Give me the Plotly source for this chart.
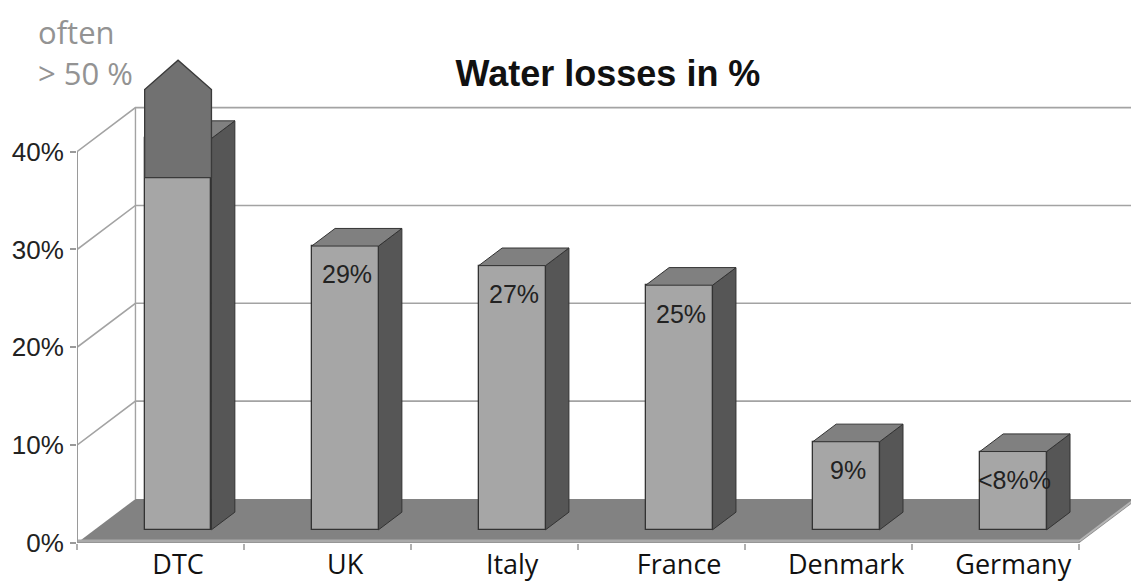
import plotly.graph_objects as go

# ---- data -------------------------------------------------------------
categories = ["DTC", "UK", "Italy", "France", "Denmark", "Germany"]
losses = [40, 29, 27, 25, 9, 8]
value_labels = ["", "29%", "27%", "25%", "9%", "<8%%"]

# DTC: common level plus the "often > 50 %" arrow
dtc_common = 36
dtc_arrow_body = 45
dtc_arrow_tip = 48

ytick_vals = [0, 10, 20, 30, 40]
ytick_text = ["0%", "10%", "20%", "30%", "40%"]

# ---- pseudo-3D geometry (in axis units) -------------------------------
DEPTH_X, DEPTH_Y = 0.35, 4.5       # full depth of the floor / side walls
BAR_NEAR, BAR_FAR = 0.30, 0.70      # depth slice occupied by the bars
BAR_W = 0.4
X_MIN, X_MAX = -0.5, 5.81
Y_MAX = 55.5

shift_x = BAR_NEAR * DEPTH_X
base = BAR_NEAR * DEPTH_Y
thick_x = (BAR_FAR - BAR_NEAR) * DEPTH_X
thick_y = (BAR_FAR - BAR_NEAR) * DEPTH_Y

FRONT = "#a6a6a6"
TOP = "#808080"
SIDE = "#565656"
ARROW = "#717171"
EDGE = "#333333"
GRID = "#a3a3a3"
FLOOR = "#828282"


def path(points):
    return "M " + " L ".join(f"{x},{y}" for x, y in points) + " Z"


shapes = []
n = len(categories)

# floor
shapes.append(dict(type="path", xref="x", yref="y", layer="below",
                   path=path([(X_MIN, 0), (n - 0.5, 0),
                              (n - 0.5 + DEPTH_X, DEPTH_Y),
                              (X_MIN + DEPTH_X, DEPTH_Y)]),
                   fillcolor=FLOOR, line=dict(width=0)))
# floor front and right edges
shapes.append(dict(type="line", xref="x", yref="y", layer="below",
                   x0=X_MIN, y0=0.2, x1=n - 0.5, y1=0.2,
                   line=dict(color="#a9a9a9", width=3)))
shapes.append(dict(type="line", xref="x", yref="y", layer="below",
                   x0=n - 0.5, y0=0.2, x1=n - 0.5 + DEPTH_X, y1=DEPTH_Y + 0.2,
                   line=dict(color="#b5b5b5", width=2)))

# gridlines on the left and back walls
for v in ytick_vals[1:]:
    shapes.append(dict(type="path", xref="x", yref="y", layer="below",
                       path=f"M {X_MIN},{v} L {X_MIN + DEPTH_X},{v + DEPTH_Y} L {X_MAX + 1},{v + DEPTH_Y}",
                       line=dict(color=GRID, width=1.6)))
# back wall left edge
shapes.append(dict(type="line", xref="x", yref="y", layer="below",
                   x0=X_MIN + DEPTH_X, y0=DEPTH_Y, x1=X_MIN + DEPTH_X,
                   y1=ytick_vals[-1] + DEPTH_Y,
                   line=dict(color=GRID, width=1.4)))
# front value axis
shapes.append(dict(type="line", xref="x", yref="y", layer="below",
                   x0=X_MIN, y0=0, x1=X_MIN, y1=ytick_vals[-1],
                   line=dict(color="#9a9a9a", width=2)))

# top and side faces of every bar
for i, v in enumerate(losses):
    x0 = i + shift_x - BAR_W / 2
    x1 = i + shift_x + BAR_W / 2
    top = v + base
    shapes.append(dict(type="path", xref="x", yref="y", layer="above",
                       path=path([(x1, base), (x1, top),
                                  (x1 + thick_x, top + thick_y),
                                  (x1 + thick_x, base + thick_y)]),
                       fillcolor=SIDE, line=dict(color=EDGE, width=1)))
    shapes.append(dict(type="path", xref="x", yref="y", layer="above",
                       path=path([(x0, top), (x1, top),
                                  (x1 + thick_x, top + thick_y),
                                  (x0 + thick_x, top + thick_y)]),
                       fillcolor=TOP, line=dict(color=EDGE, width=1)))

# DTC arrow
ax0 = 0 + shift_x - BAR_W / 2
ax1 = 0 + shift_x + BAR_W / 2
shapes.append(dict(type="path", xref="x", yref="y", layer="above",
                   path=path([(ax0, dtc_common + base), (ax1, dtc_common + base),
                              (ax1, dtc_arrow_body + base),
                              ((ax0 + ax1) / 2, dtc_arrow_tip + base),
                              (ax0, dtc_arrow_body + base)]),
                   fillcolor=ARROW, line=dict(color="#3a3a3a", width=1.3)))

fig = go.Figure()
fig.add_trace(go.Bar(
    x=[i + shift_x for i in range(n)],
    y=losses,
    base=base,
    width=BAR_W,
    marker=dict(color=FRONT, line=dict(color=EDGE, width=1.3)),
    hoverinfo="skip",
    showlegend=False,
))

annotations = []
for i, (v, lab) in enumerate(zip(losses, value_labels)):
    if lab:
        annotations.append(dict(x=i + shift_x + 0.01, y=v + base - 2.9,
                                xref="x", yref="y", text=lab, showarrow=False,
                                font=dict(family="Liberation Sans", size=25,
                                          color="#222222")))

annotations.append(dict(x=-0.039, y=0.941, xref="paper", yref="paper",
                        text="often", showarrow=False, xanchor="left",
                        yanchor="middle",
                        font=dict(family="Open Sans", size=31, color="#939393")))
annotations.append(dict(x=-0.039, y=0.866, xref="paper", yref="paper",
                        text="> 50 %", showarrow=False, xanchor="left",
                        yanchor="middle",
                        font=dict(family="Open Sans", size=31, color="#939393")))

fig.update_layout(
    width=1131, height=585,
    margin=dict(l=77, r=0, t=0, b=42, autoexpand=False),
    paper_bgcolor="white", plot_bgcolor="white",
    bargap=0,
    title=dict(text="<b>Water losses in %</b>", x=608 / 1131, y=1 - 73 / 585,
               xref="container", yref="container",
               xanchor="center", yanchor="middle",
               font=dict(family="Liberation Sans", size=36, color="#111111")),
    shapes=shapes,
    annotations=annotations,
    xaxis=dict(range=[X_MIN, X_MAX], showgrid=False, zeroline=False,
               showline=False, tickmode="array",
               tickvals=[i + shift_x for i in range(n)], ticktext=categories,
               ticks="", ticklabelstandoff=3,
               tickfont=dict(family="Open Sans", size=27, color="#111111"),
               minor=dict(tickmode="array",
                          tickvals=[i - 0.5 for i in range(n + 1)],
                          ticks="outside", ticklen=6, tickwidth=2,
                          tickcolor="#b0b0b0", showgrid=False),
               fixedrange=True),
    yaxis=dict(range=[0, Y_MAX], showgrid=False, zeroline=False,
               showline=False, tickmode="array", tickvals=ytick_vals,
               ticktext=ytick_text, ticks="outside", ticklen=6, tickwidth=2,
               tickcolor="#9a9a9a", ticklabelstandoff=1,
               tickfont=dict(family="Liberation Sans", size=26, color="#222222"),
               fixedrange=True),
)

fig.write_html("out.html")
